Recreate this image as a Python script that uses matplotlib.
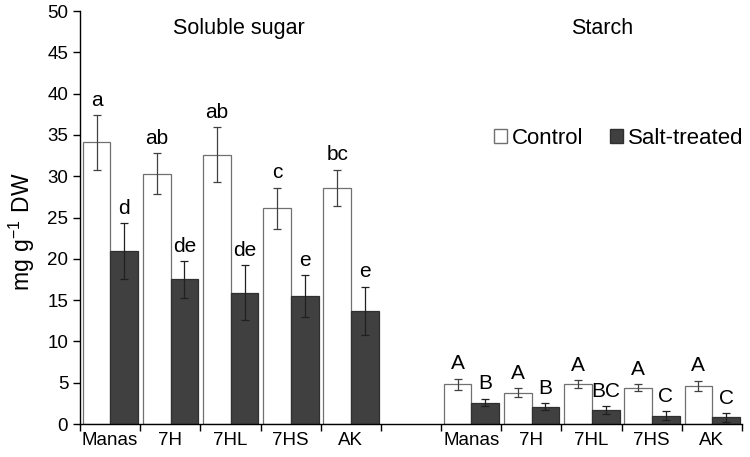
import numpy as np
import matplotlib
matplotlib.use("Agg")
import matplotlib.pyplot as plt
from matplotlib.patches import Patch

plt.rcParams["font.family"] = ["Liberation Sans", "DejaVu Sans"]

# --- Données ---
cultivars = ["Manas", "7H", "7HL", "7HS", "AK"]

sugar_ctrl = [34.1, 30.3, 32.6, 26.1, 28.6]
sugar_ctrl_err = [3.3, 2.5, 3.3, 2.5, 2.2]
sugar_salt = [20.9, 17.5, 15.9, 15.5, 13.7]
sugar_salt_err = [3.4, 2.2, 3.3, 2.5, 2.9]
sugar_ctrl_lab = ["a", "ab", "ab", "c", "bc"]
sugar_salt_lab = ["d", "de", "de", "e", "e"]

starch_ctrl = [4.8, 3.8, 4.8, 4.4, 4.6]
starch_ctrl_err = [0.65, 0.55, 0.5, 0.4, 0.6]
starch_salt = [2.6, 2.1, 1.7, 1.0, 0.8]
starch_salt_err = [0.45, 0.4, 0.45, 0.55, 0.5]
starch_ctrl_lab = ["A", "A", "A", "A", "A"]
starch_salt_lab = ["B", "B", "BC", "C", "C"]

# --- Mise en forme ---
ctrl = sugar_ctrl + [np.nan] + starch_ctrl
ctrl_err = sugar_ctrl_err + [np.nan] + starch_ctrl_err
salt = sugar_salt + [np.nan] + starch_salt
salt_err = sugar_salt_err + [np.nan] + starch_salt_err
ctrl_lab = sugar_ctrl_lab + [""] + starch_ctrl_lab
salt_lab = sugar_salt_lab + [""] + starch_salt_lab
labels = cultivars + [""] + cultivars

x = np.arange(len(labels))
w = 0.46

fig = plt.figure(figsize=(7.5, 4.57), dpi=100)
ax = fig.add_axes([0.1067, 0.0722, 0.8826, 0.9037])

ax.bar(x - 0.225, ctrl, w, color="white", edgecolor="#707070", linewidth=0.9)
ax.bar(x + 0.235, salt, w, color="#404040", edgecolor="#303030", linewidth=0.9)
ax.errorbar(x - 0.225, ctrl, yerr=ctrl_err, fmt="none", ecolor="#404040",
            elinewidth=0.9, capsize=3, capthick=0.9)
ax.errorbar(x + 0.235, salt, yerr=salt_err, fmt="none", ecolor="#202020",
            elinewidth=0.9, capsize=3, capthick=0.9)

for i in range(len(labels)):
    if ctrl_lab[i]:
        ax.annotate(ctrl_lab[i], (x[i] - 0.225, ctrl[i] + ctrl_err[i]),
                    xytext=(0, 4), textcoords="offset points",
                    ha="center", va="bottom", fontsize=15)
    if salt_lab[i]:
        ax.annotate(salt_lab[i], (x[i] + 0.235, salt[i] + salt_err[i]),
                    xytext=(0, 4), textcoords="offset points",
                    ha="center", va="bottom", fontsize=15)

ax.set_xlim(-0.5, 10.5)
ax.set_ylim(0, 50)
ax.set_yticks(np.arange(0, 51, 5))
ax.set_xticks(np.arange(-0.5, 10.6, 1))
ax.set_xticklabels([])
ax.set_xticks(x, minor=True)
ax.set_xticklabels(labels, minor=True, fontsize=13.5)
ax.tick_params(axis="x", which="minor", length=0, pad=6)
ax.tick_params(axis="x", which="major", length=5, width=1)
ax.tick_params(axis="y", length=5, width=1, labelsize=13.5)

for s in ["top", "right"]:
    ax.spines[s].set_visible(False)
ax.spines["left"].set_linewidth(1)
ax.spines["bottom"].set_linewidth(1)

ax.set_ylabel(r"$\mathregular{mg\ g^{-1}\ DW}$", fontsize=16.5)
ax.yaxis.set_label_coords(-0.065, 0.465)

ax.text(2.14, 47.9, "Soluble sugar", ha="center", va="center", fontsize=15.5)
ax.text(8.17, 47.9, "Starch", ha="center", va="center", fontsize=15.5)

handles = [Patch(facecolor="white", edgecolor="#707070"),
           Patch(facecolor="#404040", edgecolor="#303030")]
ax.legend(handles, ["Control", "Salt-treated"], loc="upper right",
          bbox_to_anchor=(1.032, 0.766), ncol=2, frameon=False, fontsize=16,
          handlelength=0.6, handleheight=0.6, handletextpad=0.2,
          columnspacing=1.2)

fig.savefig("out.png", dpi=100)
